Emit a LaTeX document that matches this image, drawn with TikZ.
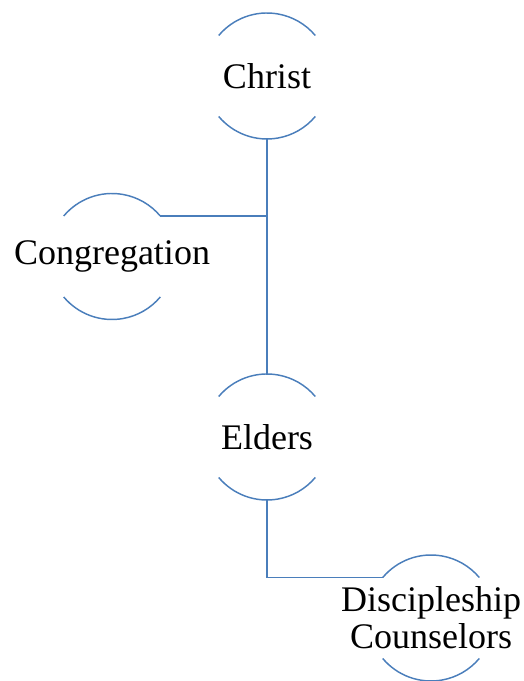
\documentclass[tikz,border=0pt]{standalone}
\usepackage{fontspec}
\setmainfont{Liberation Serif}
\definecolor{linkblue}{HTML}{4A7EBB}
\tikzset{
  ring/.style={circle,minimum size=94.5pt,inner sep=0pt,outer sep=0pt},
  lbl/.style={align=center,font=\fontsize{27}{28}\selectfont,inner sep=0pt},
  link/.style={draw=linkblue,line width=1.1pt}
}
\begin{document}
\begin{tikzpicture}[x=0.75pt,y=0.75pt]
\useasboundingbox (0,0) rectangle (524,681);

\node[ring] (christ) at (267,605) {};
\node[ring] (congregation) at (112,424.5) {};
\node[ring] (elders) at (267,244) {};
\node[ring] (disc) at (431,63) {};

\node[lbl] (christ-t) at (christ) {Christ};
\node[lbl] (congregation-t) at (congregation) {Congregation};
\node[lbl] (elders-t) at (elders) {Elders};
\node[lbl] (disc-t) at (disc) {Discipleship\\Counselors};

% open circles
\foreach \n in {christ,congregation,elders,disc}
  \draw[link] (\n.140) arc[start angle=140,end angle=40,radius=47.25pt]
              (\n.220) arc[start angle=220,end angle=320,radius=47.25pt];

\draw[link] (christ.south) -- (elders.north);
\draw[link] (congregation.40) -- (congregation.40 -| christ.south);
\draw[link] (elders.south) |- (disc.140);
\end{tikzpicture}
\end{document}
